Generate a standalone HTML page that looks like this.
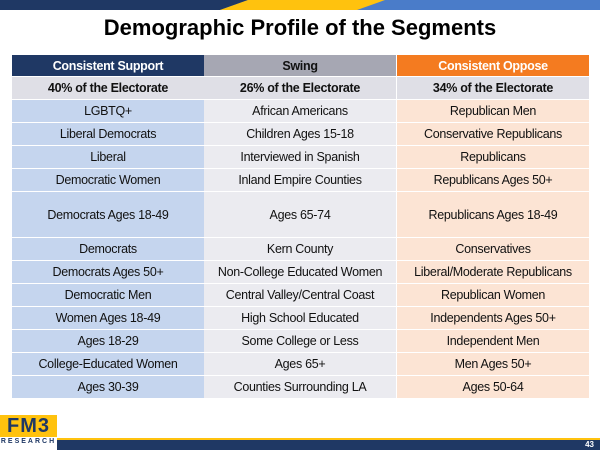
<!DOCTYPE html>
<html><head><meta charset="utf-8"><style>
*{margin:0;padding:0;box-sizing:border-box}
body{width:600px;height:450px;overflow:hidden;background:#fff;font-family:"Liberation Sans",Arial,sans-serif;position:relative}
.abs{position:absolute}
.cell{position:absolute;display:flex;align-items:center;justify-content:center;font-size:12.5px;color:#111;white-space:nowrap;letter-spacing:-0.3px}
</style></head><body>
<svg class="abs" style="left:0;top:0" width="600" height="11">
<rect x="0" y="0" width="600" height="10" fill="#4a7cc9"/>
<polygon points="0,0 248,0 220,10 0,10" fill="#1f3864"/>
<polygon points="248,0 385,0 357,10 220,10" fill="#ffc20e"/>
</svg>
<div class="abs" style="left:0;top:15px;width:600px;text-align:center;font-size:22px;font-weight:bold;color:#000">Demographic Profile of the Segments</div>
<div id="tbl"></div>
<div class="abs" style="left:0;top:415px;width:57px;height:35px">
<div style="position:absolute;left:0;top:0;width:57px;height:22px;background:#ffc20e;color:#1f3864;font-weight:bold;font-size:20px;line-height:22px;text-align:center;letter-spacing:1px">FM3</div>
<div style="position:absolute;left:0;top:23px;width:57px;font-size:7px;font-weight:bold;color:#1f3864;text-align:center;letter-spacing:2px">RESEARCH</div>
</div>
<div class="abs" style="left:57px;top:438px;width:543px;height:2px;background:#ffc20e"></div>
<div class="abs" style="left:57px;top:440px;width:543px;height:10px;background:#1f3864"></div>
<div class="abs" style="right:6px;top:440px;font-size:8px;color:#fff;font-weight:bold;line-height:10px">43</div>
<script>
const cols=[[12,192],[204,192],[397,192]];
const rows=[
 {y:55,h:21,t:["Consistent Support","Swing","Consistent Oppose"],bg:["#1f3864","#a6a7b3","#f47b20"],c:["#fff","#111","#fff"],b:true},
 {y:77,h:22,t:["40% of the Electorate","26% of the Electorate","34% of the Electorate"],bg:["#dfdfe6","#dfdfe6","#dfdfe6"],b:true},
 {t:["LGBTQ+","African Americans","Republican Men"]},
 {t:["Liberal Democrats","Children Ages 15-18","Conservative Republicans"]},
 {t:["Liberal","Interviewed in Spanish","Republicans"]},
 {t:["Democratic Women","Inland Empire Counties","Republicans Ages 50+"]},
 {t:["Democrats Ages 18-49","Ages 65-74","Republicans Ages 18-49"],tall:true},
 {t:["Democrats","Kern County","Conservatives"]},
 {t:["Democrats Ages 50+","Non-College Educated Women","Liberal/Moderate Republicans"]},
 {t:["Democratic Men","Central Valley/Central Coast","Republican Women"]},
 {t:["Women Ages 18-49","High School Educated","Independents Ages 50+"]},
 {t:["Ages 18-29","Some College or Less","Independent Men"]},
 {t:["College-Educated Women","Ages 65+","Men Ages 50+"]},
 {t:["Ages 30-39","Counties Surrounding LA","Ages 50-64"]}
];
const tbl=document.getElementById('tbl');
let y=100;
rows.forEach((r,i)=>{
 let top,h;
 if(r.y!==undefined){top=r.y;h=r.h;}else{h=r.tall?45:22;top=y;y+=h+1;}
 r.t.forEach((txt,j)=>{
  const d=document.createElement('div');
  d.className='cell';
  
  
  d.style.left=cols[j][0]+'px';d.style.width=cols[j][1]+'px';
  d.style.top=top+'px';d.style.height=h+'px';
  d.style.background=r.bg?r.bg[j]:["#c5d5ee","#ebebf0","#fce4d4"][j];
  d.style.color=r.c?r.c[j]:'#111';
  if(r.b)d.style.fontWeight='bold';
  d.textContent=txt;
  tbl.appendChild(d);
 });
});
</script>
</body></html>
